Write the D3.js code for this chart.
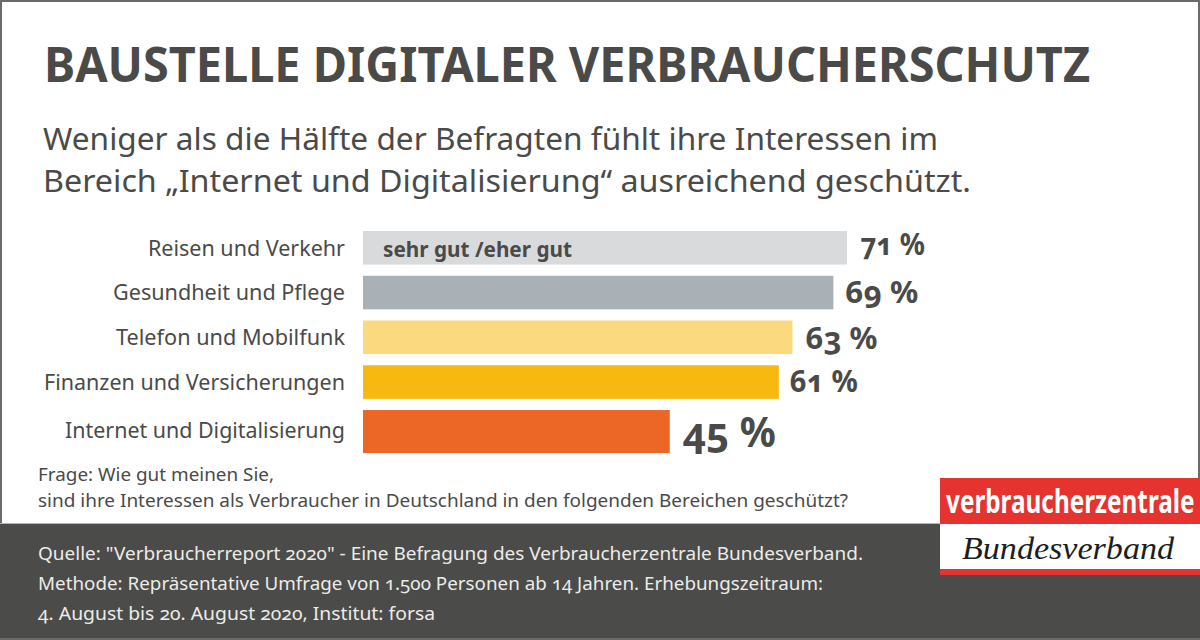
<!DOCTYPE html>
<html lang="de">
<head>
<meta charset="utf-8">
<script src="https://cdn.jsdelivr.net/npm/d3@7"></script>
<style>
  html, body { margin: 0; padding: 0; background: #fff; }
  svg { display: block; }
  text { font-family: "Noto Sans", "Open Sans", sans-serif; fill: #4a4a49; font-variant-numeric: oldstyle-nums; }
  .axis path, .axis line { display: none; }
</style>
</head>
<body>
<svg id="chart" width="1200" height="640"></svg>
<script>
const categories = ['Reisen und Verkehr', 'Gesundheit und Pflege', 'Telefon und Mobilfunk', 'Finanzen und Versicherungen', 'Internet und Digitalisierung'];
const values = [71, 69, 63, 61, 45];
const barColors = ['#d9dadc', '#a9b1b6', '#fbd97f', '#f7b90f', '#ec6726'];
const titleText = 'BAUSTELLE DIGITALER VERBRAUCHERSCHUTZ';
const subtitleLines = ['Weniger als die Hälfte der Befragten fühlt ihre Interessen im', 'Bereich „Internet und Digitalisierung“ ausreichend geschützt.'];
const questionLines = ['Frage: Wie gut meinen Sie,', 'sind ihre Interessen als Verbraucher in Deutschland in den folgenden Bereichen geschützt?'];
const sourceLines = ['Quelle: "Verbraucherreport 2020" - Eine Befragung des Verbraucherzentrale Bundesverband.', 'Methode: Repräsentative Umfrage von 1.500 Personen ab 14 Jahren. Erhebungszeitraum:', '4. August bis 20. August 2020, Institut: forsa'];

const svg = d3.select('#chart');

const x = d3.scaleLinear().domain([0, 71]).range([363, 847]);
const y = d3.scaleBand().domain(categories).range([231, 443.6]).paddingInner(0.25).paddingOuter(0);

// text fitted to the width it has in the reference
function fitted(sel, px, py, w, size, weight) {
  return sel.append('text')
    .attr('x', px).attr('y', py)
    .attr('textLength', w).attr('lengthAdjust', 'spacingAndGlyphs')
    .style('font-size', size + 'px').style('font-weight', weight);
}

// Frame
svg.append('rect').attr('x', 1).attr('y', 1).attr('width', 1198).attr('height', 638)
   .attr('fill', '#fff').attr('stroke', '#6a6a69').attr('stroke-width', 2);

// Title
fitted(svg, 44, 82, 1046, 49, 700).text(titleText);

// Subtitle
const subtitleWidths = [895, 928];
subtitleLines.forEach((line, i) => {
  fitted(svg, 43, 150 + i * 42, subtitleWidths[i], 31, 400).text(line);
});

// Bars
svg.selectAll('.bar')
   .data(categories)
   .enter()
   .append('rect')
   .attr('class', 'bar')
   .attr('x', x(0))
   .attr('y', d => y(d))
   .attr('width', (d, i) => x(values[i]) - x(0))
   .attr('height', (d, i) => i === 4 ? 43 : y.bandwidth())
   .attr('fill', (d, i) => barColors[i]);

// Category axis
const axis = svg.append('g')
   .attr('class', 'axis')
   .attr('transform', `translate(${x(0) - 6},1)`)
   .call(d3.axisLeft(y).tickSize(0).tickPadding(12));
const labelWidths = [197, 232, 229, 301, 280];
axis.selectAll('text')
   .attr('textLength', (d, i) => labelWidths[i])
   .attr('lengthAdjust', 'spacingAndGlyphs')
   .style('font-size', '21px');
axis.selectAll('.tick').filter((d, i) => i === 4)
   .attr('transform', `translate(0,${y(categories[4]) + 20})`);

// Value labels, hand placed in the reference
const valueDx = [13, 12, 13, 11, 13];
const valueDy = [23.5, 27, 28.5, 27, 37];
const valueWidths = [65, 73, 72, 68, 93];
svg.selectAll('.value')
   .data(categories)
   .enter()
   .append('text')
   .attr('class', 'value')
   .attr('x', (d, i) => x(values[i]) + valueDx[i])
   .attr('y', (d, i) => y(d) + valueDy[i])
   .attr('textLength', (d, i) => valueWidths[i])
   .attr('lengthAdjust', 'spacingAndGlyphs')
   .style('font-size', (d, i) => i === 4 ? '42px' : '30px')
   .style('font-weight', 700)
   .text((d, i) => `${values[i]} %`);

// Legend note inside the first bar
fitted(svg, 383, 257, 189, 21, 700).text('sehr gut /eher gut');

// Question
const questionWidths = [236, 810];
questionLines.forEach((line, i) => {
  fitted(svg, 38, 481 + i * 25.5, questionWidths[i], 18, 400).text(line);
});

// Footer band
svg.append('rect').attr('x', 0).attr('y', 523).attr('width', 1200).attr('height', 1).attr('fill', '#b5b5b4');
svg.append('rect').attr('x', 0).attr('y', 524).attr('width', 1200).attr('height', 114).attr('fill', '#4b4b49');
const sourceWidths = [825, 785, 397];
sourceLines.forEach((line, i) => {
  fitted(svg, 38, 560 + i * 30, sourceWidths[i], 18, 400).text(line).style('fill', '#ecebe8');
});

// Logo
svg.append('rect').attr('x', 940).attr('y', 478).attr('width', 260).attr('height', 97).attr('fill', '#e5332f');
svg.append('rect').attr('x', 940).attr('y', 524).attr('width', 260).attr('height', 45).attr('fill', '#fff');
svg.append('text')
   .attr('transform', 'translate(946,513) scale(0.76,1)')
   .style('font-size', '32px')
   .style('font-weight', 700)
   .style('fill', '#fff')
   .text('verbraucherzentrale');
svg.append('text')
   .attr('x', 962).attr('y', 559)
   .attr('textLength', 212).attr('lengthAdjust', 'spacingAndGlyphs')
   .style('font-family', '"Liberation Serif", serif')
   .style('font-style', 'italic')
   .style('font-size', '31px')
   .style('fill', '#1d1d1b')
   .text('Bundesverband');
</script>
</body>
</html>
